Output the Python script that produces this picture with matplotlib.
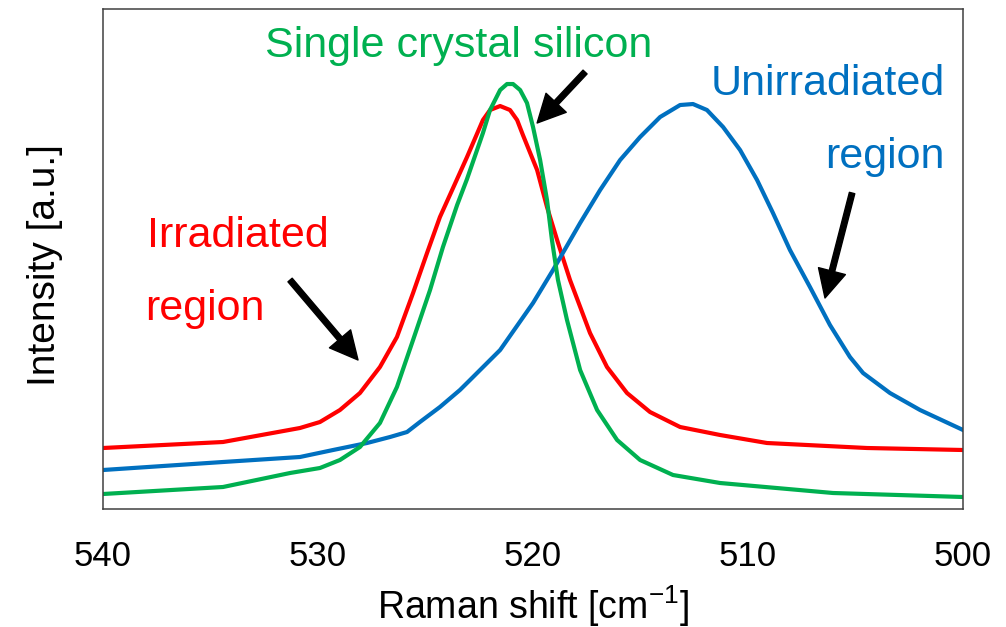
import numpy as np
import matplotlib
matplotlib.use('Agg')
import matplotlib.pyplot as plt

plt.rcParams['font.family'] = ['Liberation Sans', 'DejaVu Sans']
plt.rcParams['mathtext.fontset'] = 'custom'
plt.rcParams['mathtext.rm'] = 'Liberation Sans'
plt.rcParams['mathtext.default'] = 'regular'

# (Raman shift in cm-1, intensity in arbitrary units)
red_x = [540.0, 534.42, 530.84, 529.91, 528.98, 528.05, 527.12, 526.33, 525.58, 524.93,
         524.33, 523.72, 523.07, 522.33, 522.0, 521.53, 521.07, 520.74, 520.47, 519.81,
         519.35, 518.88, 518.28, 517.35, 516.56, 515.63, 514.56, 513.16, 511.30, 509.12,
         504.47, 500.0]
red_y = [61, 67, 81, 87, 99, 116, 142, 172, 216, 256,
         292, 321, 352, 389, 399, 403, 399, 389, 374, 339,
         302, 269, 229, 176, 142, 116, 97, 82, 74, 66,
         61, 59]

green_x = [540.0, 534.42, 531.30, 529.91, 528.98, 528.05, 527.12, 526.33, 525.58, 524.79,
           524.19, 523.53, 523.07, 522.33, 522.0, 521.53, 521.21, 520.93, 520.60, 520.28,
           520.0, 519.67, 519.35, 519.12, 518.84, 518.42, 517.81, 517.02, 516.09, 515.02,
           513.49, 511.30, 506.05, 500.0]
green_y = [15, 22, 36, 41, 49, 62, 86, 122, 169, 219,
           262, 304, 330, 376, 399, 419, 425, 425, 419, 406,
           382, 349, 309, 269, 229, 189, 139, 99, 69, 49,
           34, 26, 16, 12]

blue_x = [540.0, 534.42, 530.84, 529.30, 527.72, 526.65, 525.86, 525.26, 524.33, 523.40,
          522.93, 521.53, 520.0, 519.07, 517.81, 516.88, 515.95, 515.02, 514.09, 513.16,
          512.56, 511.91, 511.16, 510.37, 509.58, 508.84, 508.05, 507.12, 506.19, 505.26,
          504.65, 503.40, 502.0, 500.0]
blue_y = [39, 47, 52, 59, 66, 72, 77, 87, 102, 119,
          129, 159, 206, 239, 286, 319, 349, 372, 392, 404,
          405, 399, 382, 359, 329, 296, 259, 222, 184, 152,
          136, 116, 99, 79]

fig = plt.figure(figsize=(10.06, 6.27), dpi=100)
ax = fig.add_axes([0.1024, 0.1882, 0.8549, 0.7974])

ax.plot(red_x, red_y, color='#FF0000', lw=3, solid_joinstyle='round')
ax.plot(blue_x, blue_y, color='#0070C0', lw=3, solid_joinstyle='round')
ax.plot(green_x, green_y, color='#00B050', lw=3, solid_joinstyle='round')

ax.set_xlim(540, 500)
ax.set_ylim(0, 500)
ax.set_xticks([540, 530, 520, 510, 500])
ax.set_yticks([])
ax.tick_params(axis='x', length=0, pad=22, labelsize=25)
for sp in ax.spines.values():
    sp.set_color('#404040')
    sp.set_linewidth(1.1)

ax.set_xlabel(r'Raman shift [cm$^{-1}$]', fontsize=27)
ax.xaxis.set_label_coords(0.5, -0.148)
ax.set_ylabel('Intensity [a.u.]', fontsize=28)
ax.yaxis.set_label_coords(-0.047, 0.488)

# labels
ax.text(532.47, 452, 'Single crystal silicon', color='#00B050', fontsize=31, va='baseline', ha='left')
ax.text(500.84, 414, 'Unirradiated', color='#0070C0', fontsize=31, va='baseline', ha='right')
ax.text(500.84, 341, 'region', color='#0070C0', fontsize=31, va='baseline', ha='right')
ax.text(537.95, 262, 'Irradiated', color='#FF0000', fontsize=31, va='baseline', ha='left')
ax.text(538.05, 189, 'region', color='#FF0000', fontsize=31, va='baseline', ha='left')

arw = dict(arrowstyle='simple,head_length=1.0,head_width=1.0,tail_width=0.2',
           mutation_scale=20, color='black', shrinkA=0, shrinkB=0)
ax.annotate('', xy=(519.81, 386), xytext=(517.58, 437), arrowprops=arw)
ax.annotate('', xy=(506.42, 211), xytext=(505.16, 316), arrowprops=arw)
ax.annotate('', xy=(528.14, 149), xytext=(531.30, 229), arrowprops=arw)

fig.savefig('out.png', dpi=100)
